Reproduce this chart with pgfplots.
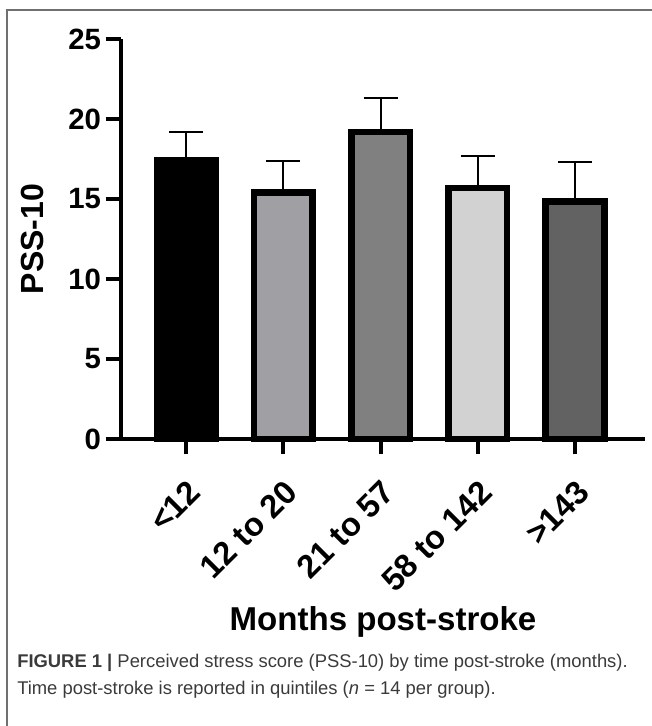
\documentclass[border=0pt]{standalone}
\usepackage{pgfplots}
\pgfplotsset{compat=1.18}
\usepackage{fontspec}
\setmainfont{Liberation Sans}
\definecolor{cA}{HTML}{000000}
\definecolor{cB}{HTML}{A0A0A4}
\definecolor{cC}{HTML}{808080}
\definecolor{cD}{HTML}{D2D2D2}
\definecolor{cE}{HTML}{626262}
\definecolor{frame}{HTML}{707070}
\definecolor{captxt}{HTML}{3A3A3A}
\begin{document}
\begin{tikzpicture}
\useasboundingbox (-90.75pt,-215.25pt) rectangle (398.25pt,329.25pt);
\draw[frame, line width=1.1pt] (-85.5pt,-216pt) -- (-85.5pt,321.75pt) -- (399pt,321.75pt);
\begin{axis}[
  at={(0,0)}, anchor=south west, scale only axis,
  width=393pt, height=300pt,
  xmin=-0.67, xmax=4.72, ymin=0, ymax=25,
  axis lines*=left,
  clip=false,
  axis line style={line width=3pt, black},
  every tick/.style={line width=3pt, black},
  tick align=outside,
  major tick length=11.5pt,
  xtick={0,1,2,3,4},
  xticklabels={<12, 12 to 20, 21 to 57, 58 to 142, >143},
  ytick={0,5,10,15,20,25},
  /pgf/number format/assume math mode=true,
  yticklabel style={font=\fontsize{22}{26}\selectfont\bfseries},
  xticklabel shift=15pt,
  xticklabel style={font=\fontsize{24.5}{28}\selectfont\bfseries, rotate=45, anchor=north east, inner sep=2pt},
  ylabel={PSS-10},
  xlabel={Months post-stroke},
  ylabel style={font=\fontsize{24}{28}\selectfont\bfseries, at={(axis description cs:-0.168,0.5)}, anchor=center},
  xlabel style={font=\fontsize{24.8}{29}\selectfont\bfseries, at={(axis description cs:0.5,-0.4575)}, anchor=center},
  every axis plot/.append style={ybar, bar width=44pt, bar shift=0pt, draw=black, line width=4.9pt},
  error bars/y dir=plus,
  error bars/y explicit,
  error bars/error bar style={line width=1.5pt, black},
  error bars/error mark options={line width=1.5pt, black, mark size=12.75pt, rotate=90},
]
\addplot[fill=cA] coordinates {(0,17.4) +- (0,1.8)};
\addplot[fill=cB] coordinates {(1,15.4) +- (0,2.0)};
\addplot[fill=cC] coordinates {(2,19.2) +- (0,2.1)};
\addplot[fill=cD] coordinates {(3,15.7) +- (0,2.0)};
\addplot[fill=cE] coordinates {(4,14.85) +- (0,2.45)};
\end{axis}
\node[anchor=base west, inner sep=0pt, text=captxt, font=\fontsize{13.8}{16}\selectfont] at (-78pt,-171pt) {\textbf{FIGURE 1 |} Perceived stress score (PSS-10) by time post-stroke (months).};
\node[anchor=base west, inner sep=0pt, text=captxt, font=\fontsize{13.8}{16}\selectfont] at (-78pt,-191.25pt) {Time post-stroke is reported in quintiles (\textit{n} = 14 per group).};
\end{tikzpicture}
\end{document}
